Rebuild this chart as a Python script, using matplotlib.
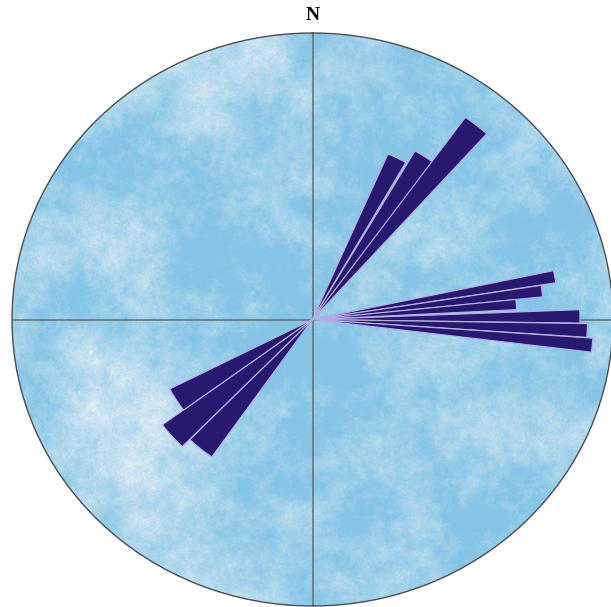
"""
Rose diagram of orientations on a cloudy blue compass disc.
"""

import numpy as np
import matplotlib
matplotlib.use("Agg")
import matplotlib.pyplot as plt
from matplotlib.patches import Ellipse

# Petal directions (degrees clockwise from N), angular widths and lengths (fraction of radius)
ne_dirs = [26.5, 33.1, 38.8]
ne_widths = [6.0, 6.0, 6.0]
ne_lengths = [0.63, 0.68, 0.87]

e_dirs = [79.5, 82.6, 85.6, 89.3, 92.4, 95.5]
e_widths = [3.0, 3.0, 3.0, 3.0, 3.0, 3.0]
e_lengths = [0.82, 0.77, 0.68, 0.89, 0.915, 0.935]

sw_dirs = [219.6, 229.0, 238.3]
sw_widths = [9.3, 9.3, 9.3]
sw_lengths = [0.585, 0.62, 0.533]

grid_dirs = [0, 90, 180, 270]

BAR_COLOR = "#29186f"
EDGE_COLOR = "#b7b0e6"
GRID_COLOR = "#66767c"


def cloud_texture(size=600, seed=3):
    # soft fractal noise for the sky-like fill
    rng = np.random.default_rng(seed)
    white = rng.standard_normal((size, size))
    fx = np.fft.fftfreq(size)[:, None]
    fy = np.fft.fftfreq(size)[None, :]
    f = np.sqrt(fx ** 2 + fy ** 2)
    f[0, 0] = 1.0
    spec = np.fft.fft2(white) / f ** 1.35
    spec[0, 0] = 0
    cloud = np.real(np.fft.ifft2(spec))
    cloud = (cloud - cloud.mean()) / cloud.std()
    grain = rng.standard_normal((size, size))
    t = np.clip(0.22 + 0.17 * cloud, 0, 1)
    t = np.clip(t + 0.07 * grain * (0.4 + t), 0, 1)
    base = np.array([0.52, 0.77, 0.90])
    light = np.array([0.93, 0.95, 0.97])
    return base[None, None, :] * (1 - t[..., None]) + light[None, None, :] * t[..., None]


fig = plt.figure(figsize=(6.11, 6.07), dpi=100)
rect = [12 / 611, 1 / 607, 601 / 611, 573 / 607]

# background disc with texture
bg = fig.add_axes(rect)
bg.set_axis_off()
disc = Ellipse((0.5, 0.5), 1.0, 1.0, transform=bg.transAxes, facecolor="none")
bg.add_patch(disc)
img = bg.imshow(cloud_texture(), extent=[0, 1, 0, 1], aspect="auto",
                transform=bg.transAxes, interpolation="bilinear")
img.set_clip_path(disc)

# rose diagram
ax = fig.add_axes(rect, projection="polar")
ax.set_aspect("auto")
ax.patch.set_alpha(0)
ax.set_theta_zero_location("N")
ax.set_theta_direction(-1)
ax.set_ylim(0, 1)
ax.set_rgrids([])
ax.set_thetagrids(grid_dirs, labels=["", "", "", ""])
ax.grid(True, color=GRID_COLOR, linewidth=1.2)
ax.yaxis.grid(False)
ax.spines["polar"].set_color("#4a4f52")
ax.spines["polar"].set_linewidth(1.0)

for dirs, widths, lengths in [(ne_dirs, ne_widths, ne_lengths),
                              (e_dirs, e_widths, e_lengths),
                              (sw_dirs, sw_widths, sw_lengths)]:
    ax.bar(np.radians(dirs), lengths, width=np.radians(widths), bottom=0,
           color=BAR_COLOR, edgecolor=EDGE_COLOR, linewidth=0.8, zorder=3)

fig.text(313 / 611, 1 - 16 / 607, "N", ha="center", va="center",
         fontsize=14, fontweight="bold", family=["Liberation Serif", "DejaVu Serif"])

fig.savefig("out.png", dpi=100)
